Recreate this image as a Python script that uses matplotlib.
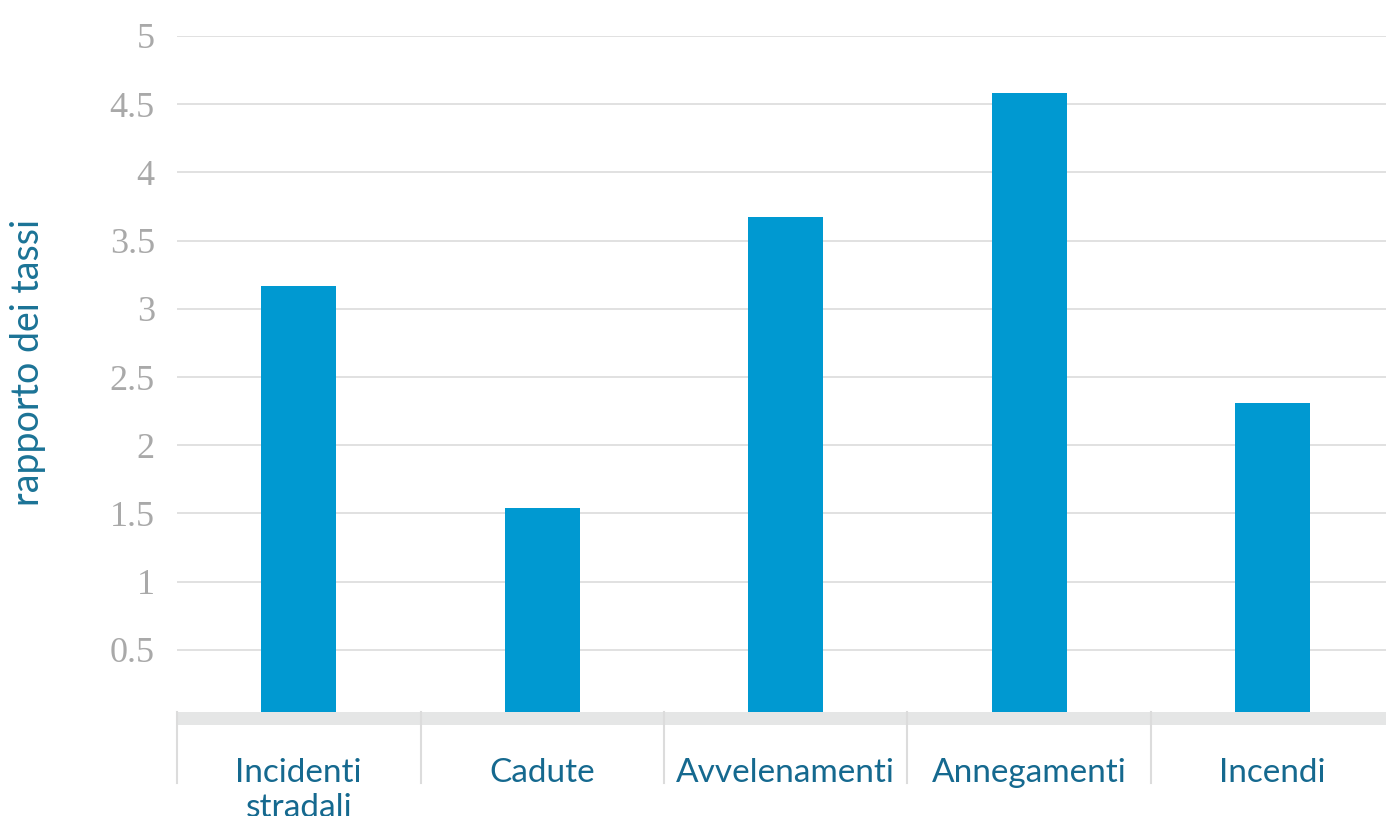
import matplotlib
matplotlib.use("Agg")
import matplotlib.pyplot as plt
from matplotlib.transforms import blended_transform_factory

categories = ["Incidenti\nstradali", "Cadute", "Avvelenamenti", "Annegamenti", "Incendi"]
values = [3.17, 1.54, 3.67, 4.58, 2.31]
yticks = [0.5, 1, 1.5, 2, 2.5, 3, 3.5, 4, 4.5, 5]
ytick_labels = ["0.5", "1", "1.5", "2", "2.5", "3", "3.5", "4", "4.5", "5"]
ylabel = "rapporto dei tassi"

W, H = 1386, 816
fig = plt.figure(figsize=(W / 100, H / 100), dpi=100)
cat_w = 243.5
ax_left, ax_top, ax_bottom = 177, 36, 718
ax_right = W
ax = fig.add_axes([ax_left / W, (H - ax_bottom) / H, (ax_right - ax_left) / W, (ax_bottom - ax_top) / H])

bar_color = "#0099d1"
label_color = "#15698f"
tick_color = "#a9a9a9"
grid_color = "#dcdcdc"

x = list(range(len(categories)))
ax.bar(x, values, width=75 / cat_w, color=bar_color, zorder=2)
ax.set_xlim(-0.5, -0.5 + (ax_right - ax_left) / cat_w)
ax.set_ylim(0, 5)

ax.set_yticks(yticks)
ax.set_yticklabels(ytick_labels, family="Liberation Serif", fontsize=26, color=tick_color)
ax.tick_params(axis="y", length=0, pad=16)
ax.set_xticks([])
ax.yaxis.grid(True, color=grid_color, linewidth=1.2, zorder=0)
ax.set_axisbelow(True)
for s in ax.spines.values():
    s.set_visible(False)

# bottom band
ax.axhline(0, color="#e5e6e6", linewidth=13 * 72 / 100, zorder=3, solid_capstyle="butt", clip_on=False)

ph = ax_bottom - ax_top
trans = blended_transform_factory(ax.transData, ax.transAxes)
for b in range(len(categories)):
    xb = b - 0.5
    ax.plot([xb, xb], [(ax_bottom - 712) / ph, (ax_bottom - 783) / ph], transform=trans,
            color="#dcdcdc", linewidth=1.5, clip_on=False, zorder=4)

for i, lab in enumerate(categories):
    for j, line in enumerate(lab.split("\n")):
        base_px = 782 + 35 * j
        ax.text(i, (ax_bottom - base_px) / ph, line, transform=trans, ha="center", va="baseline",
                family="Lato", fontweight="normal", fontsize=24, color=label_color, clip_on=False)

fig.text(28 / W, (H - 362) / H, ylabel, rotation=90, ha="center", va="center",
         family="Lato", fontweight="normal", fontsize=27, color="#1b7396")

fig.savefig("out.png", dpi=100, facecolor="white")
